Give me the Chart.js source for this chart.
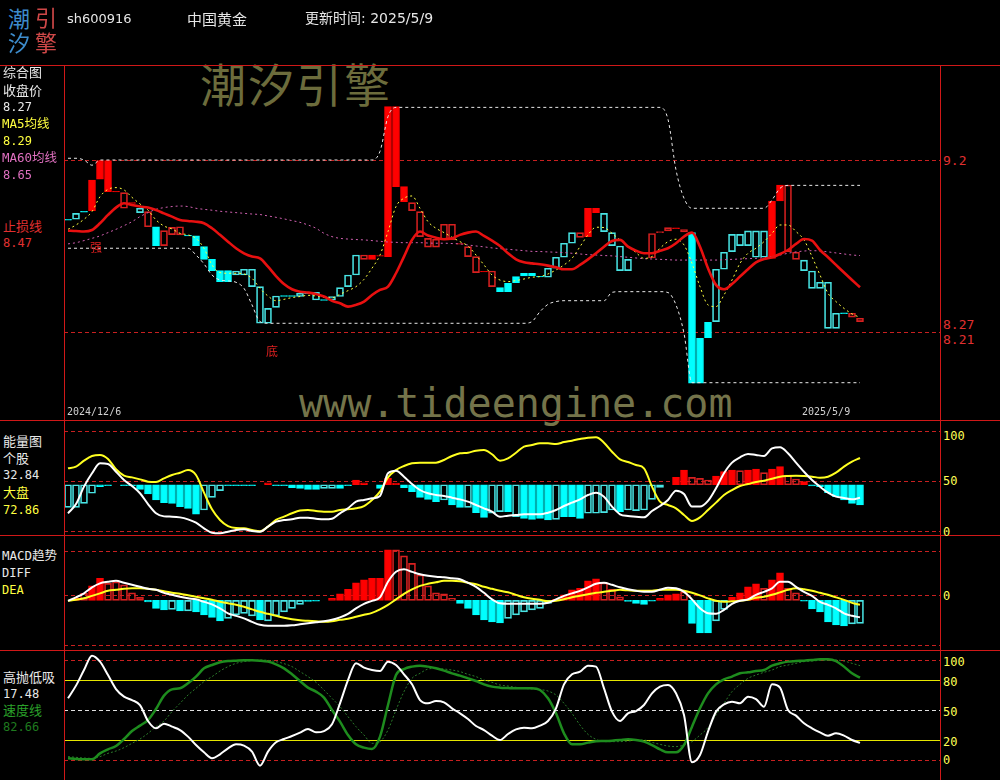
<!DOCTYPE html>
<html><head><meta charset="utf-8">
<script src="https://cdn.jsdelivr.net/npm/chart.js@4/dist/chart.umd.min.js"></script>
<style>
html,body{margin:0;padding:0;background:#000;width:1000px;height:780px;overflow:hidden;}
#wrap{position:relative;width:1000px;height:780px;background:#000;overflow:hidden;}
.t{position:absolute;white-space:nowrap;font-family:"DejaVu Sans Mono","Noto Sans CJK SC",monospace;}
canvas{position:absolute;}
.ln{position:absolute;background:#d01818;}
</style></head><body><div id="wrap"></div>
<script>
// ---------------- DATA ----------------
const tradeDates = ['2024/12/6','2024/12/9','2024/12/10','2024/12/11','2024/12/12','2024/12/13','2024/12/16','2024/12/17','2024/12/18','2024/12/19','2024/12/20','2024/12/23','2024/12/24','2024/12/25','2024/12/26','2024/12/27','2024/12/30','2024/12/31',
'2025/1/2','2025/1/3','2025/1/6','2025/1/7','2025/1/8','2025/1/9','2025/1/10','2025/1/13','2025/1/14','2025/1/15','2025/1/16','2025/1/17','2025/1/20','2025/1/21','2025/1/22','2025/1/23','2025/1/24','2025/1/27',
'2025/2/5','2025/2/6','2025/2/7','2025/2/10','2025/2/11','2025/2/12','2025/2/13','2025/2/14','2025/2/17','2025/2/18','2025/2/19','2025/2/20','2025/2/21','2025/2/24','2025/2/25','2025/2/26','2025/2/27','2025/2/28',
'2025/3/3','2025/3/4','2025/3/5','2025/3/6','2025/3/7','2025/3/10','2025/3/11','2025/3/12','2025/3/13','2025/3/14','2025/3/17','2025/3/18','2025/3/19','2025/3/20','2025/3/21','2025/3/24','2025/3/25','2025/3/26','2025/3/27','2025/3/28','2025/3/31',
'2025/4/1','2025/4/2','2025/4/3','2025/4/7','2025/4/8','2025/4/9','2025/4/10','2025/4/11','2025/4/14','2025/4/15','2025/4/16','2025/4/17','2025/4/18','2025/4/21','2025/4/22','2025/4/23','2025/4/24','2025/4/25','2025/4/28','2025/4/29','2025/4/30',
'2025/5/6','2025/5/7','2025/5/8','2025/5/9'];

// candle bodies (one end / other end) and style: R filled red, r hollow red, C filled cyan, c hollow cyan, - none
const candleOpen = [8.858,8.893,8.905,8.909,9.089,9.018,9.016,8.922,8.950,8.922,
 8.816,8.816,8.707,8.770,8.769,8.767,8.763,8.701,8.628,8.563,
 8.563,8.561,8.571,8.571,8.471,8.346,8.417,8.419,8.419,8.433,
 8.435,8.438,8.396,8.414,8.465,8.538,8.653,8.628,8.628,8.646,
 8.644,9.047,8.960,8.909,8.759,8.698,8.698,8.740,8.740,8.715,
 8.644,8.552,8.555,8.471,8.465,8.490,8.529,8.548,8.548,8.531,
 8.577,8.640,8.721,8.782,8.755,8.759,8.897,8.893,8.782,8.705,
 8.628,8.640,8.628,8.636,8.782,8.792,8.805,8.786,8.782,8.174,
 8.266,8.571,8.669,8.772,8.772,8.792,8.792,8.792,8.634,8.964,
 8.673,8.628,8.624,8.561,8.496,8.496,8.318,8.320,8.295,8.289];
const candleClose = [8.853,8.859,8.900,9.085,9.197,9.197,9.020,9.012,8.955,8.897,
 8.903,8.707,8.793,8.812,8.816,8.763,8.707,8.628,8.563,8.500,
 8.500,8.538,8.538,8.471,8.260,8.260,8.352,8.415,8.415,8.414,
 8.431,8.394,8.392,8.394,8.414,8.471,8.538,8.653,8.653,8.650,
 9.507,9.507,9.047,8.955,8.903,8.749,8.744,8.830,8.830,8.719,
 8.701,8.644,8.559,8.561,8.442,8.442,8.494,8.532,8.532,8.527,
 8.525,8.577,8.640,8.721,8.782,8.922,8.922,8.788,8.707,8.563,
 8.563,8.660,8.653,8.777,8.788,8.811,8.809,8.800,7.915,7.915,
 8.177,8.270,8.571,8.673,8.707,8.707,8.640,8.640,8.964,9.056,
 9.056,8.669,8.563,8.461,8.461,8.231,8.231,8.316,8.318,8.270];
const candleStyle = "CcCRRRRrRc"+"rCrrrCCCCC"+"CccccccCCc"+"CcCccccrRR"+"RRRrrrrrrR"+
                    "rrRrCCCCCC"+"ccccrRRccc"+"c--rrrRrCC"+"CcccccccRR"+"rrcccccCrr";

const stopLine = [8.793,8.791,8.788,8.797,8.836,8.884,8.926,8.951,8.941,8.932,
 8.926,8.912,8.893,8.874,8.855,8.849,8.845,8.836,8.807,8.769,
 8.730,8.692,8.663,8.644,8.634,8.586,8.532,8.486,8.456,8.442,
 8.437,8.429,8.414,8.390,8.375,8.356,8.366,8.385,8.423,8.452,
 8.471,8.548,8.644,8.740,8.788,8.765,8.753,8.744,8.749,8.769,
 8.782,8.788,8.763,8.736,8.705,8.663,8.628,8.611,8.605,8.600,
 8.592,8.582,8.571,8.571,8.596,8.628,8.663,8.701,8.734,8.740,
 8.701,8.678,8.663,8.663,8.678,8.692,8.721,8.759,8.782,8.701,
 8.577,8.481,8.456,8.486,8.529,8.571,8.611,8.630,8.640,8.659,
 8.682,8.717,8.745,8.736,8.682,8.640,8.596,8.552,8.509,8.467];
const ma5 = [8.801,8.826,8.859,8.903,8.989,9.031,9.041,9.028,8.985,8.947,
 8.912,8.855,8.820,8.803,8.778,8.769,8.749,8.692,8.596,8.552,
 8.548,8.548,8.544,8.519,8.461,8.417,8.390,8.398,8.408,8.414,
 8.421,8.417,8.410,8.406,8.427,8.448,8.471,8.513,8.577,8.653,
 8.788,8.932,8.980,8.993,8.922,8.845,8.807,8.782,8.755,8.730,
 8.705,8.653,8.596,8.538,8.509,8.500,8.506,8.515,8.525,8.529,
 8.544,8.567,8.596,8.634,8.701,8.769,8.813,8.811,8.778,8.740,
 8.705,8.667,8.634,8.644,8.692,8.730,8.744,8.711,8.605,8.471,
 8.366,8.356,8.423,8.509,8.605,8.663,8.692,8.730,8.778,8.826,
 8.826,8.788,8.740,8.644,8.538,8.433,8.385,8.346,8.314,8.294];
const ma60 = [8.717,8.724,8.736,8.749,8.763,8.782,8.801,8.822,8.845,8.874,
 8.897,8.916,8.926,8.932,8.935,8.932,8.922,8.916,8.911,8.905,
 8.901,8.897,8.893,8.889,8.886,8.878,8.870,8.861,8.851,8.841,
 8.826,8.807,8.778,8.759,8.749,8.745,8.742,8.740,8.736,8.732,
 8.728,8.726,8.724,8.724,8.724,8.722,8.721,8.721,8.719,8.717,
 8.711,8.705,8.700,8.694,8.690,8.686,8.682,8.678,8.674,8.673,
 8.671,8.669,8.667,8.663,8.659,8.655,8.653,8.650,8.648,8.644,
 8.640,8.636,8.632,8.630,8.628,8.626,8.624,8.624,8.624,8.624,
 8.624,8.624,8.626,8.628,8.630,8.632,8.634,8.638,8.644,8.653,
 8.663,8.671,8.676,8.678,8.676,8.671,8.665,8.659,8.653,8.650];
const upperBand = [9.210,9.210,9.200,9.170,9.200,9.200,9.200,9.200,9.200,9.200,
 9.200,9.200,9.200,9.200,9.200,9.200,9.200,9.200,9.200,9.200,
 9.200,9.200,9.200,9.200,9.200,9.200,9.200,9.200,9.200,9.200,
 9.200,9.200,9.200,9.200,9.200,9.200,9.200,9.200,9.200,9.250,
 9.450,9.503,9.503,9.503,9.503,9.503,9.503,9.503,9.503,9.503,
 9.503,9.503,9.503,9.503,9.503,9.503,9.503,9.503,9.503,9.503,
 9.503,9.503,9.503,9.503,9.503,9.503,9.503,9.503,9.503,9.503,
 9.503,9.503,9.503,9.503,9.503,9.434,9.143,8.980,8.922,8.922,
 8.922,8.922,8.922,8.922,8.922,8.922,8.922,8.922,8.970,9.037,
 9.054,9.054,9.054,9.054,9.054,9.054,9.054,9.054,9.054,9.054];
const lowerBand = [8.692,8.692,8.692,8.692,8.692,8.692,8.692,8.692,8.692,8.692,
 8.692,8.692,8.692,8.692,8.692,8.692,8.653,8.602,8.538,8.509,
 8.504,8.496,8.461,8.366,8.270,8.260,8.260,8.260,8.260,8.260,
 8.260,8.260,8.260,8.260,8.260,8.260,8.260,8.260,8.260,8.260,
 8.260,8.260,8.260,8.260,8.260,8.260,8.260,8.260,8.260,8.260,
 8.260,8.260,8.260,8.260,8.260,8.260,8.260,8.260,8.270,8.327,
 8.369,8.385,8.390,8.390,8.390,8.390,8.390,8.390,8.438,8.442,
 8.442,8.442,8.442,8.442,8.442,8.437,8.366,8.202,7.918,7.918,
 7.918,7.918,7.918,7.918,7.918,7.918,7.918,7.918,7.918,7.918,
 7.918,7.918,7.918,7.918,7.918,7.918,7.918,7.918,7.918,7.918];
const priceLevels = [9.2, 8.21];
const priceAxisLabels = ['9.2', '8.27', '8.21'];
const priceAxisValues = [9.2, 8.27, 8.21];
const markText = ['强', '底'];
const markIndex = [3.5, 25.5];
const markPrice = [8.70, 8.10];

// energy panel
const energyBase = 46;
const energyBar = [23.3,23.3,27.3,37.4,44.1,45.0,null,45.0,45.0,41.4,
 36.7,30.7,28.0,27.3,24.0,22.3,16.5,20.6,33.3,40.0,
 45.0,45.0,45.0,45.0,null,48.0,45.0,45.0,43.1,42.4,
 41.4,41.4,42.4,42.4,42.4,45.0,50.8,48.0,null,42.4,
 52.4,47.6,43.1,39.0,33.3,31.3,29.0,30.7,25.6,23.3,
 23.3,17.9,13.2,17.3,18.9,18.9,13.9,12.2,11.2,12.2,
 10.6,11.2,13.9,13.9,12.2,17.3,17.3,17.9,20.6,18.9,
 20.6,19.9,20.6,31.3,43.4,null,53.4,60.8,53.4,52.4,
 50.8,54.8,59.1,60.8,60.1,60.8,61.8,58.1,61.8,64.2,
 55.8,51.8,49.1,44.7,44.1,38.0,34.0,30.7,27.3,25.6];
const energyStyle = "ccccCC-CCC"+"CCCCCCCccc"+"CCCC-RCCCC"+"CCccCCRR-C"+"RRCCCCCcCC"+
                    "cCCccCcCCC"+"CcCCCccccC"+"ccccc-RRrr"+"rRRRrRRrRR"+"rrRCCCCCCC";
const stockEnergy = [17.3,26.6,44.1,57.5,67.5,66.8,59.1,50.8,44.7,37.4,
 26.6,17.3,14.2,13.9,13.2,11.2,7.9,2.2,-2.2,-2.8,
 -1.2,0.5,1.2,-0.5,-1.2,3.9,8.9,10.6,11.2,12.9,
 12.9,11.9,11.2,11.9,17.3,22.3,29.0,30.7,32.3,34.7,
 57.5,60.1,54.1,46.7,40.7,37.4,35.7,34.7,33.0,31.3,
 29.0,25.6,22.3,18.9,13.9,14.9,15.5,16.3,16.3,16.3,
 17.9,20.6,24.6,28.0,31.3,35.7,38.0,34.0,24.0,16.3,
 14.5,13.9,13.2,19.6,24.6,30.7,40.0,36.7,24.0,24.0,
 29.7,42.4,57.5,68.2,73.6,76.9,75.9,74.9,82.5,83.6,
 77.6,68.2,59.1,50.8,44.1,38.0,34.0,32.7,31.3,32.84];
const marketEnergy = [62.5,64.2,70.2,74.9,75.9,71.9,61.5,55.1,53.4,51.4,
 49.1,48.7,52.4,55.8,58.1,60.8,55.8,38.0,21.3,10.6,
 4.5,2.5,2.2,0.5,-0.8,3.9,10.6,13.9,17.3,20.0,
 20.6,19.6,18.9,18.9,20.6,21.3,22.3,24.6,30.7,39.0,
 53.4,60.8,64.8,67.5,68.2,68.2,68.2,70.9,74.9,77.6,
 78.2,80.2,80.9,76.6,70.2,72.5,78.2,84.3,85.9,87.6,
 87.6,86.9,88.9,90.3,92.0,93.3,93.6,88.3,79.2,71.5,
 68.8,65.8,62.5,44.1,29.0,25.6,22.3,15.6,9.6,13.2,
 20.6,28.0,35.7,40.7,44.7,46.7,48.7,50.1,52.1,54.1,
 54.8,55.1,54.8,54.1,53.1,54.1,58.1,64.2,69.2,72.86];
const energyLevels = [100, 50, 0];

// MACD panel
const macdBar = [null,0.004,0.014,0.029,0.044,0.034,0.037,0.031,0.015,0.006,
 -0.003,-0.016,-0.019,-0.018,-0.021,-0.021,-0.023,-0.029,-0.034,-0.041,
 -0.036,-0.029,-0.026,-0.031,-0.039,-0.041,-0.031,-0.023,-0.016,-0.008,
 -0.002,-0.0015,null,0.004,0.013,0.022,0.035,0.041,0.044,0.044,
 0.101,0.101,0.089,0.074,0.051,0.029,0.015,0.013,0.004,-0.006,
 -0.016,-0.029,-0.039,-0.043,-0.045,-0.036,-0.029,-0.023,-0.019,-0.016,
 -0.006,0.002,0.011,0.021,0.024,0.039,0.043,0.035,0.022,0.007,
 -0.002,-0.006,-0.008,-0.0015,0.004,0.011,0.013,0.017,-0.046,-0.065,
 -0.065,-0.041,-0.018,0.006,0.015,0.027,0.033,0.024,0.041,0.055,
 0.024,0.015,-0.0015,-0.017,-0.023,-0.043,-0.049,-0.051,-0.047,-0.046];
const macdStyle = "-RrRRrrrrr"+"CCCcCcCCCC"+"ccccCccccc"+"CC-RRRRRRR"+"RrrrrrrrrC"+
                  "CCCCCccccc"+"cRRRRRRrrr"+"CCCCRRRrCC"+"CccRRRRrRR"+"rrCCCCCCcc";
const diff = [-0.001,0.006,0.014,0.026,0.034,0.037,0.039,0.035,0.031,0.027,
 0.023,0.021,0.015,0.011,0.007,0.004,0.002,-0.003,-0.008,-0.016,
 -0.026,-0.031,-0.036,-0.043,-0.049,-0.051,-0.051,-0.051,-0.050,-0.048,
 -0.046,-0.044,-0.042,-0.039,-0.034,-0.027,-0.016,-0.007,-0.001,0.006,
 0.037,0.057,0.062,0.057,0.052,0.049,0.047,0.046,0.044,0.042,
 0.035,0.027,0.015,0.002,-0.006,-0.007,-0.007,-0.007,-0.007,-0.007,
 -0.005,0.002,0.009,0.014,0.019,0.026,0.033,0.035,0.031,0.026,
 0.022,0.019,0.017,0.017,0.021,0.025,0.024,0.017,0.002,-0.016,
 -0.026,-0.027,-0.019,-0.007,-0.001,0.002,0.011,0.017,0.024,0.037,
 0.037,0.027,0.017,0.009,-0.003,-0.009,-0.016,-0.026,-0.031,-0.034];
const dea = [-0.001,0.001,0.004,0.009,0.014,0.019,0.021,0.023,0.024,0.024,
 0.023,0.021,0.018,0.015,0.013,0.010,0.007,0.004,0.001,-0.003,
 -0.006,-0.009,-0.013,-0.018,-0.023,-0.027,-0.031,-0.035,-0.038,-0.040,
 -0.041,-0.042,-0.043,-0.042,-0.039,-0.037,-0.033,-0.029,-0.025,-0.018,
 -0.009,0.002,0.013,0.022,0.029,0.033,0.036,0.039,0.039,0.038,
 0.035,0.032,0.027,0.023,0.019,0.016,0.011,0.006,0.003,0.001,
 -0.002,-0.001,0.002,0.006,0.009,0.012,0.015,0.017,0.019,0.021,
 0.020,0.019,0.019,0.019,0.021,0.021,0.021,0.019,0.015,0.010,
 0.004,-0.001,-0.003,-0.002,-0.001,0.001,0.005,0.007,0.011,0.016,
 0.021,0.024,0.022,0.019,0.015,0.011,0.006,0.001,-0.005,-0.009];
const macdLevels = [0.0993, 0.0107, -0.09];

// high-sell / low-buy panel
const hlLine = [62.0,74.7,90.3,104.7,98.7,85.3,71.3,63.7,60.3,55.3,
 39.3,32.0,36.7,33.7,30.3,23.7,15.3,8.0,2.0,6.0,
 12.0,16.0,14.7,8.7,-5.3,8.7,18.0,21.3,24.3,27.7,
 31.3,28.0,29.3,36.0,57.0,80.3,97.0,92.7,90.3,89.3,
 98.7,95.3,86.0,76.0,60.3,57.0,59.3,58.0,52.0,47.0,
 41.3,34.3,30.3,24.7,20.3,26.3,31.0,32.7,32.0,34.7,
 39.3,52.0,76.0,86.0,88.7,94.7,93.7,72.0,48.7,39.3,
 47.0,49.3,55.3,67.0,73.7,75.3,67.0,45.3,-2.0,5.3,
 28.7,48.7,56.0,58.7,57.0,63.7,61.3,53.7,76.0,72.7,
 50.3,44.7,37.0,32.0,28.0,24.7,27.0,24.7,20.3,17.48];
const speedLine = [2.0,1.3,1.0,1.0,7.0,11.0,14.3,21.3,29.3,34.7,
 40.3,51.3,64.7,71.0,72.0,77.0,83.7,92.0,95.3,98.0,
 99.3,99.7,100.0,100.0,99.7,98.7,96.0,92.0,86.0,79.3,
 72.7,68.7,62.7,50.3,38.7,25.3,16.0,12.7,11.3,23.7,
 55.3,85.3,91.3,93.7,94.7,93.7,92.0,89.7,87.0,84.7,
 82.0,79.3,76.0,73.7,72.7,72.3,72.0,72.0,72.0,70.3,
 62.0,47.0,27.0,16.0,16.0,17.7,19.0,19.3,19.7,20.3,
 21.0,20.3,18.7,15.3,11.0,8.0,8.0,15.3,33.7,52.0,
 67.0,76.0,81.0,83.7,87.0,88.0,89.3,90.3,94.7,97.0,
 98.7,99.3,99.7,100.3,101.0,101.0,99.3,93.7,87.0,82.66];
const speedSignal = [3.7,3.0,2.3,2.0,3.7,7.0,9.3,12.7,17.0,21.3,
 27.0,33.7,39.3,48.7,57.0,65.3,72.0,78.7,83.7,89.3,
 93.7,97.0,98.7,99.7,100.3,100.0,98.7,96.7,93.7,88.7,
 83.7,78.0,70.3,62.0,53.7,43.7,33.7,25.3,17.0,18.7,
 30.3,50.3,68.7,82.0,87.0,91.3,92.0,91.3,90.3,88.7,
 86.0,83.7,80.3,78.0,75.3,74.3,73.0,72.0,71.3,70.7,
 69.3,65.3,57.0,47.0,35.3,26.0,21.0,18.7,18.7,18.7,
 19.3,20.0,20.3,18.0,16.0,14.3,13.7,15.3,18.7,25.3,
 32.7,45.3,57.0,68.7,76.0,82.0,85.3,88.0,90.3,93.7,
 95.3,97.0,98.7,99.3,100.0,100.3,100.3,99.3,97.0,94.7];
const hlLevels = [100, 80, 50, 20, 0];

// ---------------- DRAWING ----------------
const wrap = document.getElementById('wrap');
function addText(str, x, cy, color, size, family, extra) {
  const d = document.createElement('div');
  d.className = 't'; d.textContent = str;
  d.style.left = x + 'px'; d.style.top = (cy - size / 2) + 'px';
  d.style.fontSize = size + 'px'; d.style.lineHeight = size + 'px';
  d.style.color = color;
  if (family) d.style.fontFamily = family;
  if (extra) Object.assign(d.style, extra);
  wrap.appendChild(d); return d;
}
function box(x, y, w, h, color) {
  const d = document.createElement('div'); d.className = 'ln';
  Object.assign(d.style, {left: x + 'px', top: y + 'px', width: w + 'px', height: h + 'px', background: color});
  wrap.appendChild(d);
}

// watermarks (under everything)
addText('潮汐引擎', 200, 82, '#6c6c3c', 46, '"Noto Sans CJK SC",sans-serif', {letterSpacing: '2px'});
addText('www.tideengine.com', 299, 403, '#74744a', 40, '"DejaVu Sans Mono",monospace');

const COL = {
  R: {bg: '#ff0000', bd: '#ff0000'}, r: {bg: 'rgba(0,0,0,0)', bd: '#d82020'},
  C: {bg: '#00ffff', bd: '#00ffff'}, c: {bg: 'rgba(0,0,0,0)', bd: '#48e4e4'}
};
const pts = arr => arr.map((v, i) => ({x: i, y: v}));

function refPlugin(levels) {
  return {
    id: 'refLines',
    beforeDatasetsDraw(chart) {
      const {ctx, chartArea: a} = chart; const y = chart.scales.y;
      levels.forEach(l => {
        const py = Math.round(y.getPixelForValue(l.v)) + 0.5;
        ctx.save(); ctx.strokeStyle = l.c; ctx.lineWidth = 1; ctx.setLineDash(l.d || []);
        ctx.beginPath(); ctx.moveTo(a.left, py); ctx.lineTo(a.right, py); ctx.stroke(); ctx.restore();
      });
    }
  };
}
function makeChart(top, height, ymin, ymax, datasets, levels) {
  const c = document.createElement('canvas');
  c.width = 876; c.height = height;
  Object.assign(c.style, {left: '64px', top: top + 'px', width: '876px', height: height + 'px'});
  wrap.appendChild(c);
  return new Chart(c, {
    type: 'bar',
    data: {datasets},
    options: {
      responsive: false, animation: false, devicePixelRatio: 1, events: [],
      layout: {padding: 0},
      plugins: {legend: {display: false}, tooltip: {enabled: false}},
      scales: {
        x: {type: 'linear', min: -0.5, max: 109, display: false, offset: false},
        y: {type: 'linear', min: ymin, max: ymax, display: false}
      }
    },
    plugins: [refPlugin(levels)]
  });
}
function lineDs(arr, color, width, order, dash) {
  return {type: 'line', data: pts(arr), borderColor: color, borderWidth: width, pointRadius: 0,
    borderDash: dash || [], cubicInterpolationMode: 'monotone', fill: false, spanGaps: true, order};
}
function barDs(vals, base, style, order) {
  const data = [], bg = [], bd = [];
  vals.forEach((v, i) => {
    const s = style[i];
    if (v == null || !COL[s]) return;
    const b = Array.isArray(base) ? base[i] : base;
    data.push({x: i, y: [b, v]}); bg.push(COL[s].bg); bd.push(COL[s].bd);
  });
  return {type: 'bar', data, backgroundColor: bg, borderColor: bd, borderWidth: 1,
    borderSkipped: false, barThickness: 7, order};
}

const RED_DASH = '#c82020';
// main panel
const mainChart = makeChart(66, 354, 7.7032, 9.7412, [
  lineDs(stopLine, '#e81010', 2.6, 1),
  lineDs(ma5, '#ffff40', 1, 2, [2, 3]),
  lineDs(upperBand, '#e8e8e8', 1, 3, [3, 3]),
  lineDs(lowerBand, '#e8e8e8', 1, 3, [3, 3]),
  lineDs(ma60, '#d060b0', 1, 4, [2, 3]),
  barDs(candleClose, candleOpen, candleStyle, 5)
], priceLevels.map(v => ({v, c: RED_DASH, d: [4, 3]})));

// energy panel
const energyChart = makeChart(421, 114, -4.52, 110.05, [
  lineDs(stockEnergy, '#ffffff', 2, 1),
  lineDs(marketEnergy, '#ffff20', 2, 2),
  barDs(energyBar, energyBase, energyStyle, 3)
], energyLevels.map(v => ({v, c: RED_DASH, d: [4, 3]})));

// MACD panel
const macdChart = makeChart(536, 114, -0.09933, 0.12867, [
  lineDs(diff, '#ffffff', 2, 1),
  lineDs(dea, '#ffff20', 2, 2),
  barDs(macdBar, 0, macdStyle, 3)
], macdLevels.map(v => ({v, c: RED_DASH, d: [4, 3]})));

// high/low panel
const hlChart = makeChart(651, 129, -19.67, 109.33, [
  lineDs(hlLine, '#ffffff', 2, 1),
  lineDs(speedLine, '#1e8c1e', 2.5, 2),
  lineDs(speedSignal, '#2a7a2a', 1, 3, [2, 2])
], [
  {v: hlLevels[0], c: RED_DASH, d: [4, 3]},
  {v: hlLevels[1], c: '#e6e600'},
  {v: hlLevels[2], c: '#e0e0e0', d: [4, 3]},
  {v: hlLevels[3], c: '#e6e600'},
  {v: hlLevels[4], c: RED_DASH, d: [4, 3]}
]);

// frame lines
box(0, 65, 1000, 1, '#d01818');
box(0, 420, 1000, 1, '#d01818');
box(0, 535, 1000, 1, '#d01818');
box(0, 650, 1000, 1, '#d01818');
box(64, 65, 1, 715, '#d01818');
box(940, 65, 1, 715, '#d01818');

// header
const CJK = '"Noto Sans CJK SC",sans-serif';
addText('潮', 8, 17, '#3d8ccc', 22, CJK);
addText('引', 35, 16, '#d04848', 22, CJK);
addText('汐', 8, 41, '#3d8ccc', 22, CJK);
addText('擎', 35, 41, '#d04848', 22, CJK);
addText('sh600916', 67, 18, '#e6e6e6', 13, '"DejaVu Sans",sans-serif');
addText('中国黄金', 187, 18, '#e6e6e6', 15, CJK);
addText('更新时间: ' + tradeDates[tradeDates.length - 1], 305, 18, '#e6e6e6', 14, '"DejaVu Sans","Noto Sans CJK SC",sans-serif');

// left labels
const W = '#e8e8e8', Y = '#ffff40', P = '#e070c0', RD = '#e03030';
const last = a => a[a.length - 1];
addText('综合图', 3, 72, W, 13);
addText('收盘价', 3, 90, W, 13);
addText(last(candleClose).toFixed(2), 3, 107, W, 12);
addText('MA5均线', 2, 124, Y, 12.5);
addText(last(ma5).toFixed(2), 3, 141, Y, 12);
addText('MA60均线', 2, 158, P, 12.5);
addText(last(ma60).toFixed(2), 3, 175, P, 12);
addText('止损线', 3, 226, RD, 13);
addText(last(stopLine).toFixed(2), 3, 243, RD, 12);

addText('能量图', 3, 441, W, 13);
addText('个股', 3, 458, W, 13);
addText(last(stockEnergy).toFixed(2), 3, 475, W, 12);
addText('大盘', 3, 492, Y, 13);
addText(last(marketEnergy).toFixed(2), 3, 510, Y, 12);

addText('MACD趋势', 2, 556, W, 12.5);
addText('DIFF', 2, 573, W, 12);
addText('DEA', 2, 590, Y, 12);

addText('高抛低吸', 3, 677, W, 13);
addText(last(hlLine).toFixed(2), 3, 694, W, 12);
addText('速度线', 3, 710, '#2aa02a', 13);
addText(last(speedLine).toFixed(2), 3, 727, '#1f7a1f', 12);

// right axis labels (positioned from the scales)
function rightLabel(chart, canvasTop, v, text, color, dy, size) {
  const y = canvasTop + chart.scales.y.getPixelForValue(v) + dy;
  addText(text, 943, y, color, size);
}
const mainDy = [0, 3, 8];
priceAxisValues.forEach((v, k) => rightLabel(mainChart, 66, v, priceAxisLabels[k], '#e03030', mainDy[k], 13));
const YL = '#ffff55';
rightLabel(energyChart, 421, 100, '100', YL, 5, 12);
rightLabel(energyChart, 421, 50, '50', YL, 0.5, 12);
rightLabel(energyChart, 421, 0, '0', YL, 1, 12);
rightLabel(macdChart, 536, macdLevels[1], '0', YL, 1.5, 12);
hlLevels.forEach(v => rightLabel(hlChart, 651, v, String(v), YL, v === 0 ? 0 : 2, 12));

// marks & dates
markText.forEach((t, k) => {
  const x = 64 + mainChart.scales.x.getPixelForValue(markIndex[k]);
  const y = 66 + mainChart.scales.y.getPixelForValue(markPrice[k]);
  addText(t, x - 6, y, '#e02020', 12, CJK);
});
addText(tradeDates[0], 67, 412, '#d0d0d0', 10);
addText(tradeDates[tradeDates.length - 1], 802, 412, '#d0d0d0', 10);
</script>
</body></html>
